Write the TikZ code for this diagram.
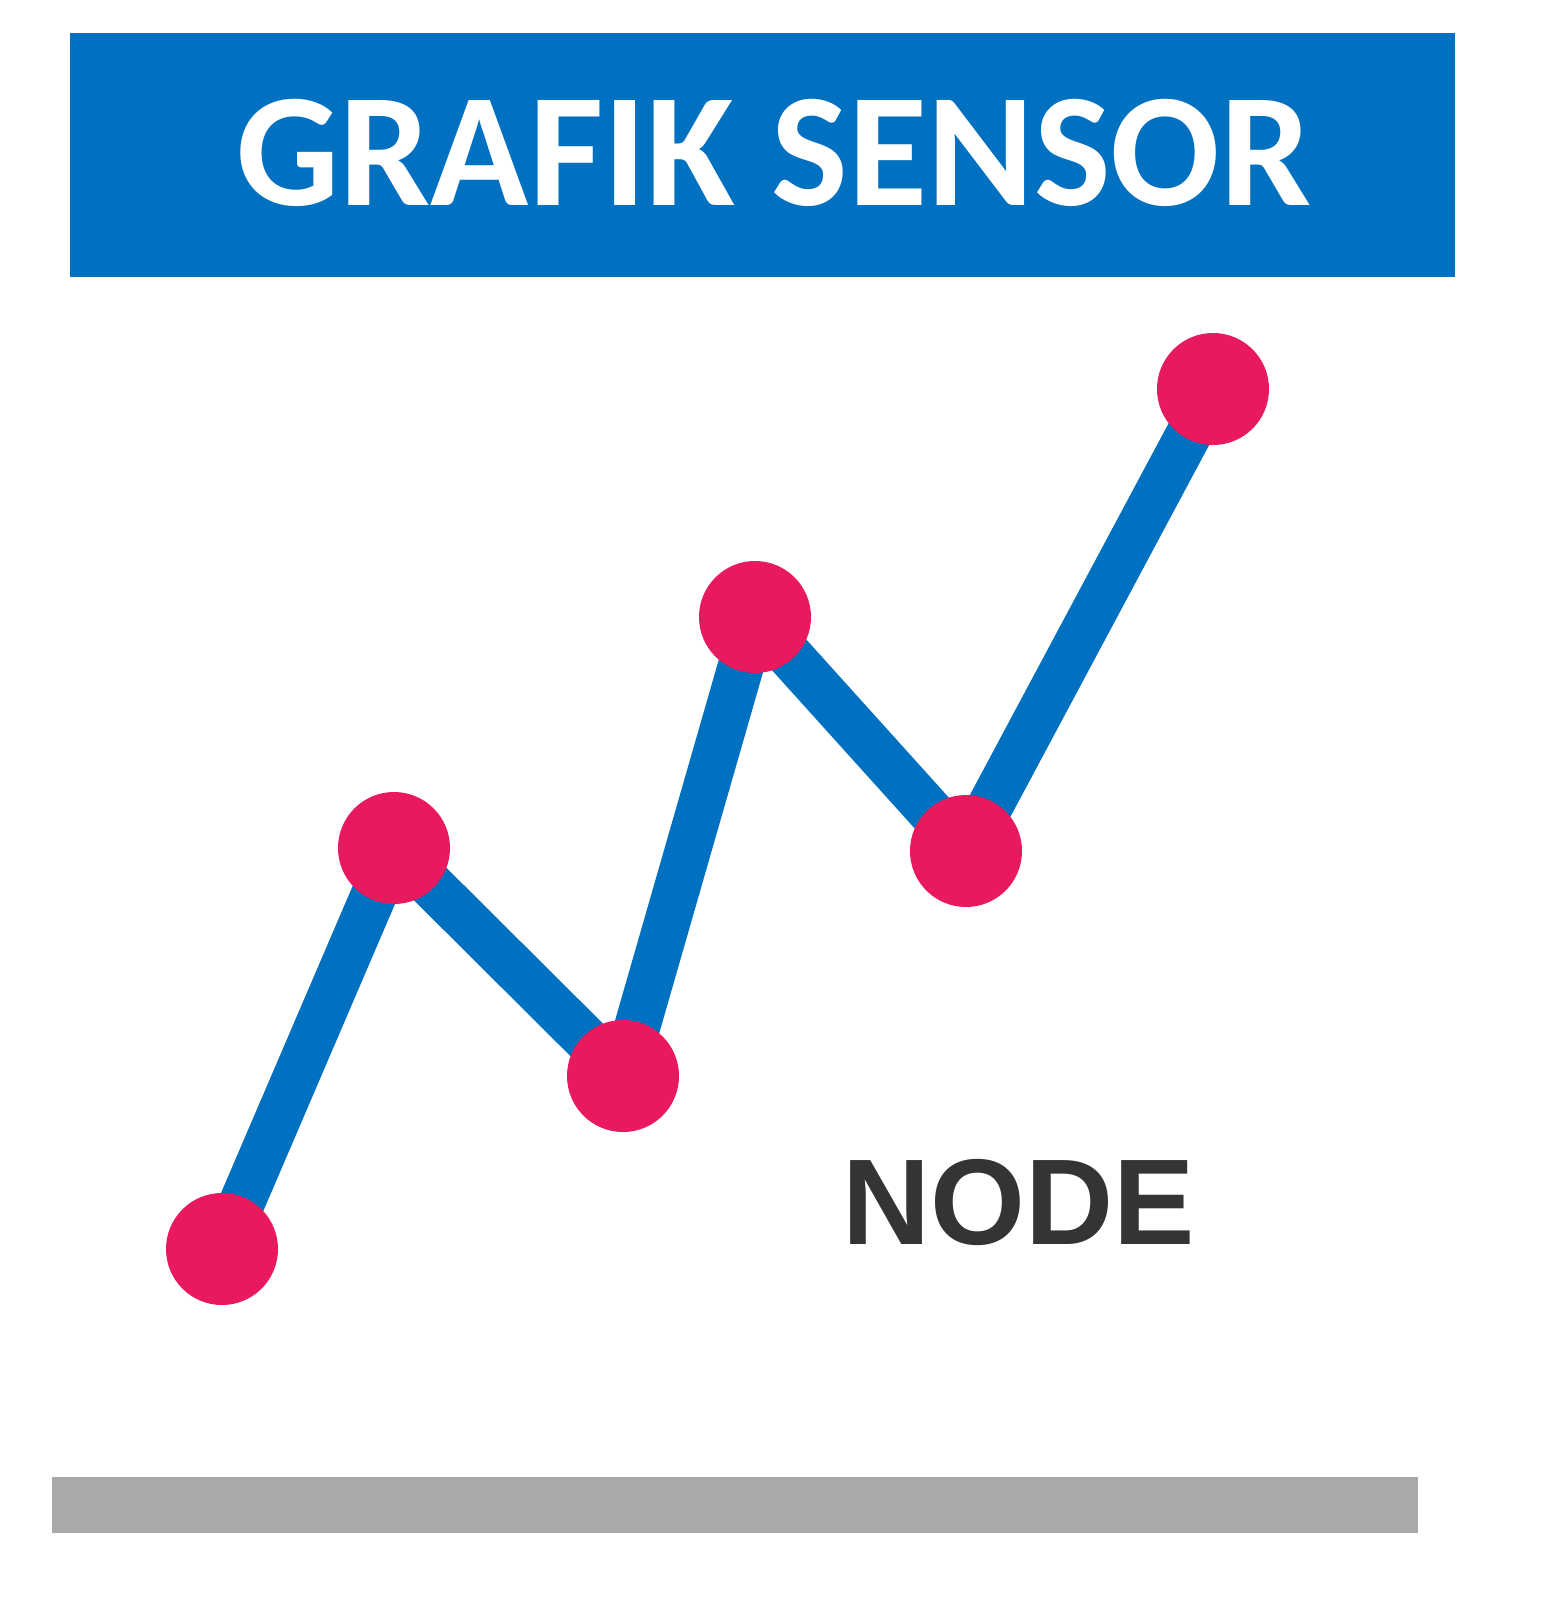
\documentclass[tikz,border=0pt]{standalone}
\usepackage{fontspec}
\newfontfamily\titlefont{Carlito}
\newfontfamily\nodefont{Liberation Sans Bold}
\definecolor{hdrblue}{HTML}{0070C0}
\definecolor{dotpink}{HTML}{E8195C}
\definecolor{bargray}{HTML}{A9A9A9}
\definecolor{txtgray}{HTML}{353435}
\begin{document}
\begin{tikzpicture}[x=0.5pt,y=-0.5pt,
  dot/.style={circle,fill=dotpink,minimum size=56pt,inner sep=0pt},
  trend/.style={draw=hdrblue,line width=23pt},
  header/.style={fill=hdrblue},
  footer/.style={fill=bargray}]
\useasboundingbox (0,0) rectangle (1553,1603);
\fill[header] (70,33) rectangle (1455,277);
\node[text=white,font=\titlefont\bfseries\fontsize{81pt}{81pt}\selectfont,anchor=base] (title) at (774,205) {GRAFIK SENSOR};
\coordinate (p1) at (222,1249);
\coordinate (p2) at (394,848);
\coordinate (p3) at (623,1076);
\coordinate (p4) at (755,617);
\coordinate (p5) at (966,851);
\coordinate (p6) at (1213,389);
\draw[trend] (p1) -- (p2) -- (p3) -- (p4) -- (p5) -- (p6);
\foreach \p in {p1,p2,p3,p4,p5,p6} \node[dot] (d\p) at (\p) {};
\node[text=txtgray,font=\nodefont\fontsize{61pt}{61pt}\selectfont,anchor=base] (lbl) at (1019,1244) {NODE};
\fill[footer] (52,1477) rectangle (1418,1533);
\end{tikzpicture}
\end{document}
